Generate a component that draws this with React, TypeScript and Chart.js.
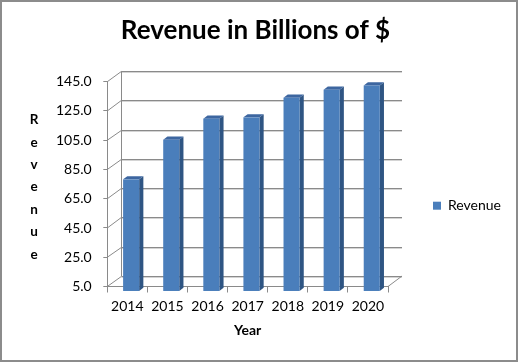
import React, { useEffect, useRef } from "react";
import { Chart, registerables } from "chart.js";

Chart.register(...registerables);

// ---- data ----
const years = ["2014", "2015", "2016", "2017", "2018", "2019", "2020"];
const revenue = [76.3, 103.4, 117.8, 118.7, 132.1, 137.6, 140.5];
const yMin = 5;
const yMax = 145;
const yStep = 20;
const seriesName = "Revenue";
const chartTitle = "Revenue in Billions of $";
const xTitle = "Year";
const yTitle = "Revenue";

// ---- style ----
const FONT = "Lato";
const DEPTH_X = 14;
const DEPTH_Y = 10.5;
const BAR_FRONT = 0.27;
const BAR_DEPTH = 0.3;
const GRID = "#8a8a8a";
const GRID_SHADE = "#d4d4d4";
const BAR_FRONT_COLOR = "#4A7EBB";
const BAR_SIDE_COLOR = "#2F5583";
const BAR_TOP_COLOR = "#3D66A0";

const threeD = {
  id: "threeD",
  beforeDatasetsDraw(chart: any) {
    const { ctx, chartArea } = chart;
    const { left, right, top, bottom } = chartArea;
    const y = chart.scales.y;
    ctx.save();
    ctx.lineWidth = 1;
    for (let v = yMin; v <= yMax + 1e-9; v += yStep) {
      const py = Math.round(y.getPixelForValue(v) - DEPTH_Y) + 0.5;
      const fy = y.getPixelForValue(v);
      ctx.strokeStyle = GRID_SHADE;
      ctx.beginPath();
      ctx.moveTo(left + DEPTH_X, py + 1);
      ctx.lineTo(right + DEPTH_X, py + 1);
      ctx.stroke();
      ctx.strokeStyle = GRID;
      ctx.beginPath();
      ctx.moveTo(left, fy);
      ctx.lineTo(left + DEPTH_X, py);
      ctx.lineTo(right + DEPTH_X, py);
      ctx.stroke();
    }
    const bx = Math.round(left + DEPTH_X) + 0.5;
    ctx.strokeStyle = GRID;
    ctx.beginPath();
    ctx.moveTo(bx, top - DEPTH_Y);
    ctx.lineTo(bx, bottom - DEPTH_Y);
    ctx.stroke();
    ctx.beginPath();
    ctx.moveTo(right, bottom);
    ctx.lineTo(right + DEPTH_X, bottom - DEPTH_Y);
    ctx.stroke();
    ctx.restore();
  },
  beforeDatasetDraw() {
    return false;
  },
  afterDatasetsDraw(chart: any) {
    const { ctx } = chart;
    const meta = chart.getDatasetMeta(0);
    const ox = DEPTH_X * BAR_FRONT;
    const oy = DEPTH_Y * BAR_FRONT;
    const dx = DEPTH_X * BAR_DEPTH;
    const dy = DEPTH_Y * BAR_DEPTH;
    ctx.save();
    meta.data.forEach((bar: any) => {
      const p = bar.getProps(["x", "y", "base", "width"], true);
      const x0 = p.x - p.width / 2 + ox;
      const x1 = p.x + p.width / 2 + ox;
      const yt = p.y - oy;
      const yb = p.base - oy;
      ctx.fillStyle = BAR_SIDE_COLOR;
      ctx.beginPath();
      ctx.moveTo(x1, yt);
      ctx.lineTo(x1 + dx, yt - dy);
      ctx.lineTo(x1 + dx, yb - dy);
      ctx.lineTo(x1, yb);
      ctx.closePath();
      ctx.fill();
      ctx.fillStyle = BAR_TOP_COLOR;
      ctx.beginPath();
      ctx.moveTo(x0, yt);
      ctx.lineTo(x0 + dx, yt - dy);
      ctx.lineTo(x1 + dx, yt - dy);
      ctx.lineTo(x1, yt);
      ctx.closePath();
      ctx.fill();
      ctx.fillStyle = BAR_FRONT_COLOR;
      ctx.fillRect(x0, yt, x1 - x0, yb - yt);
    });
    ctx.restore();
  },
  afterDraw(chart: any) {
    const { ctx, chartArea, width, height } = chart;
    ctx.save();
    ctx.font = `bold 13.5px ${FONT}`;
    ctx.fillStyle = "#000";
    ctx.textAlign = "center";
    ctx.textBaseline = "middle";
    const letters = yTitle.split("");
    const gap = 22.4;
    const cy = (chartArea.top + chartArea.bottom) / 2 + 3;
    letters.forEach((ch, i) => {
      ctx.fillText(ch, 34, cy + (i - (letters.length - 1) / 2) * gap);
    });
    ctx.strokeStyle = "#8c8c8c";
    ctx.lineWidth = 2;
    ctx.strokeRect(1, 1, width - 2, height - 2);
    ctx.restore();
  },
};

export default function App() {
  const ref = useRef<HTMLCanvasElement | null>(null);
  useEffect(() => {
    if (!ref.current) return;
    const chart = new Chart(ref.current, {
      type: "bar",
      data: {
        labels: years,
        datasets: [
          {
            label: seriesName,
            data: revenue,
            backgroundColor: BAR_FRONT_COLOR,
            borderWidth: 0,
            categoryPercentage: 1,
            barPercentage: 0.4,
          },
        ],
      },
      options: {
        responsive: false,
        animation: false,
        devicePixelRatio: 1,
        events: [],
        layout: { padding: { left: 0, right: 7, top: 0, bottom: 0 } },
        plugins: {
          tooltip: { enabled: false },
          title: {
            display: true,
            text: chartTitle,
            color: "#000",
            font: { family: FONT, size: 26, weight: "bold" },
            padding: { top: 15, bottom: 35.5 },
          },
          legend: {
            display: true,
            position: "right",
            align: "center",
            title: {
              display: true,
              text: "",
              font: { family: FONT, size: 10 },
              padding: { top: 37.4, bottom: 0 },
            },
            labels: {
              boxWidth: 8,
              boxHeight: 8,
              padding: 45,
              color: "#000",
              font: { family: FONT, size: 14 },
            },
          },
        },
        scales: {
          x: {
            afterFit: (s: any) => {
              s.height = 75.5;
            },
            grid: {
              drawOnChartArea: false,
              drawTicks: true,
              tickLength: 6,
              color: GRID,
            },
            border: { display: true, color: GRID },
            ticks: {
              color: "#000",
              padding: 6,
              font: { family: FONT, size: 14 },
            },
            title: {
              display: true,
              text: xTitle,
              color: "#000",
              font: { family: FONT, size: 14, weight: "bold" },
              padding: { top: 4, bottom: 22.9 },
            },
          },
          y: {
            min: yMin,
            max: yMax,
            afterFit: (s: any) => {
              s.width = 107.3;
            },
            grid: {
              drawOnChartArea: false,
              drawTicks: true,
              tickLength: 4,
              color: GRID,
            },
            border: { display: true, color: GRID },
            ticks: {
              stepSize: yStep,
              color: "#000",
              padding: 11.6,
              font: { family: FONT, size: 14 },
              callback: (v: any) => Number(v).toFixed(1),
            },
          },
        },
      },
      plugins: [threeD],
    });
    return () => chart.destroy();
  }, []);
  return (
    <div style={{ position: "fixed", left: 0, top: 0, width: 518, height: 362, background: "#fff" }}>
      <canvas ref={ref} width={518} height={362} />
    </div>
  );
}
